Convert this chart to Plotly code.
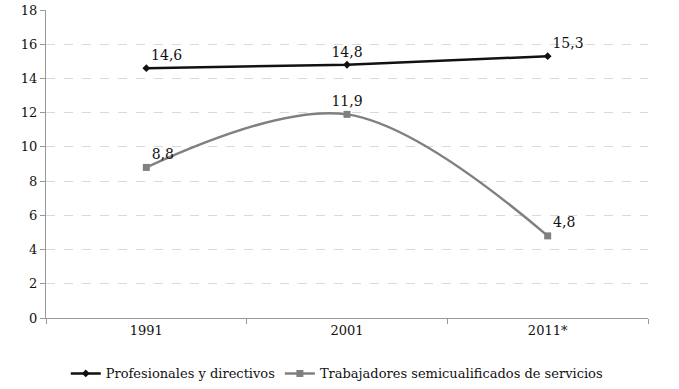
import plotly.graph_objects as go

categories = ["1991", "2001", "2011*"]
profesionales = [14.6, 14.8, 15.3]
trabajadores = [8.8, 11.9, 4.8]
series_names = ["Profesionales y directivos", "Trabajadores semicualificados de servicios"]
y_ticks = [0, 2, 4, 6, 8, 10, 12, 14, 16, 18]

def fmt(v):
    return f"{v:.1f}".replace(".", ",")

font_family = "DejaVu Serif"
fs = 13

fig = go.Figure()
fig.add_trace(go.Scatter(
    x=categories, y=profesionales, name=series_names[0],
    mode="lines+markers+text",
    line=dict(color="#111111", width=2.5),
    marker=dict(symbol="diamond", size=6, color="#111111"),
    text=[fmt(v) for v in profesionales],
    textposition=["top right", "top center", "top right"],
    textfont=dict(family=font_family, size=14, color="#111111"),
    cliponaxis=False,
))
fig.add_trace(go.Scatter(
    x=categories, y=trabajadores, name=series_names[1],
    mode="lines+markers+text",
    line=dict(color="#808080", width=2.5, shape="spline", smoothing=1.0),
    marker=dict(symbol="square", size=7, color="#808080"),
    text=[fmt(v) for v in trabajadores],
    textposition=["top right", "top center", "top right"],
    textfont=dict(family=font_family, size=14, color="#111111"),
    cliponaxis=False,
))

fig.update_layout(
    template="none",
    width=679, height=389,
    margin=dict(l=46, r=31, t=10, b=71, autoexpand=False),
    plot_bgcolor="white", paper_bgcolor="white",
    font=dict(family=font_family, size=fs, color="#111111"),
    showlegend=True,
    legend=dict(orientation="h", x=0.483, xanchor="center", y=-0.18, yanchor="middle",
                font=dict(family=font_family, size=fs, color="#111111"),
                itemwidth=30, tracegroupgap=0, bgcolor="rgba(0,0,0,0)"),
    xaxis=dict(type="category", range=[-0.5, 2.5], showgrid=False, automargin=False,
               showline=True, linecolor="#999999", linewidth=1,
               ticks="outside", tickson="boundaries", ticklen=5, tickcolor="#999999",
               tickfont=dict(family=font_family, size=fs)),
    yaxis=dict(range=[0, 18], tickvals=y_ticks, showgrid=True, automargin=False,
               gridcolor="#d9d9d9", griddash="dash", gridwidth=1,
               showline=True, linecolor="#999999", linewidth=1,
               ticks="outside", ticklen=5, tickcolor="#999999",
               zeroline=False, tickfont=dict(family=font_family, size=fs)),
)

fig.write_html("out.html", config={"displayModeBar": False},
               post_script="document.body.style.margin='0';")
